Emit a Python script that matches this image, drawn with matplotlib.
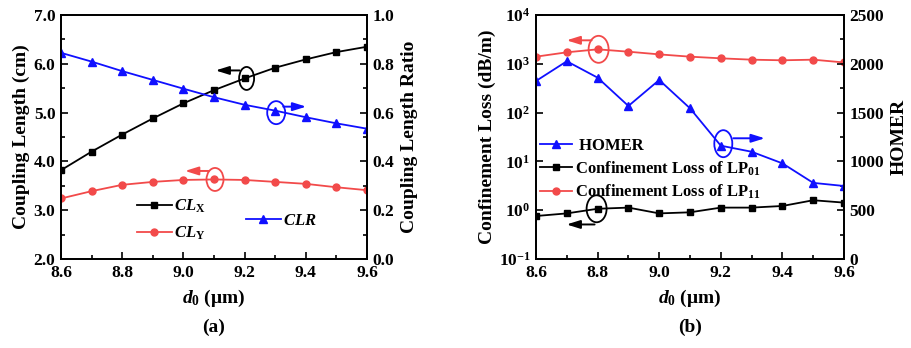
import numpy as np
import matplotlib
matplotlib.use("Agg")
import matplotlib.pyplot as plt
from matplotlib.patches import Ellipse
from matplotlib.transforms import ScaledTranslation
from matplotlib.ticker import MultipleLocator, FixedLocator, NullLocator, FixedFormatter

plt.rcParams['font.family'] = ['Liberation Serif', 'DejaVu Serif']
plt.rcParams['font.weight'] = 'bold'
plt.rcParams['mathtext.fontset'] = 'custom'
plt.rcParams['mathtext.rm'] = 'Liberation Serif:bold'
plt.rcParams['mathtext.bf'] = 'Liberation Serif:bold'
plt.rcParams['mathtext.it'] = 'Liberation Serif:italic:bold'
plt.rcParams['axes.linewidth'] = 1.3

# ---- data ----
d0 = [8.6, 8.7, 8.8, 8.9, 9.0, 9.1, 9.2, 9.3, 9.4, 9.5, 9.6]

# panel (a): coupling lengths (cm) and ratio
cl_x = [3.82, 4.20, 4.55, 4.88, 5.19, 5.46, 5.70, 5.92, 6.09, 6.24, 6.35]
cl_y = [3.24, 3.39, 3.52, 3.58, 3.62, 3.63, 3.62, 3.58, 3.54, 3.47, 3.41]
clr = [0.845, 0.809, 0.770, 0.734, 0.698, 0.663, 0.632, 0.608, 0.581, 0.556, 0.534]

# panel (b): confinement loss (dB/m) and HOMER
loss_lp01 = [0.76, 0.86, 1.07, 1.13, 0.86, 0.905, 1.13, 1.13, 1.22, 1.60, 1.43]
loss_lp11 = [1400, 1720, 1980, 1770, 1560, 1400, 1295, 1215, 1180, 1215, 1065]
homer = [1824, 2026, 1858, 1568, 1834, 1544, 1161, 1099, 980, 780, 748]

xticks = [8.6, 8.8, 9.0, 9.2, 9.4, 9.6]
xticklabels = ['8.6', '8.8', '9.0', '9.2', '9.4', '9.6']

BLACK = '#000000'
RED = '#f24a4a'
BLUE = '#1010ff'

TICK_FS = 12.5
LABEL_FS = 14
LEG_FS = 12

fig = plt.figure(figsize=(9.11, 3.48), dpi=100)
ax_a = fig.add_axes([61 / 911, 89 / 348, 306 / 911, 244 / 348])
ax_b = fig.add_axes([536 / 911, 89 / 348, 308 / 911, 244 / 348])


def style_axis(ax):
    ax.tick_params(which='both', direction='in', labelsize=TICK_FS, width=1.2)
    ax.tick_params(which='major', length=5, pad=4)
    ax.tick_params(which='minor', length=3)
    for lab in ax.get_xticklabels() + ax.get_yticklabels():
        lab.set_fontweight('bold')


def mark(ax, x, y, w, h, color, cx, cy, tail, head, dy):
    """Ellipse around a data point plus a horizontal arrow (offsets in inches)."""
    trans = fig.dpi_scale_trans + ScaledTranslation(x, y, ax.transData)
    ax.add_patch(Ellipse((cx, cy), w, h, transform=trans, fill=False,
                         edgecolor=color, lw=1.3, clip_on=False, zorder=6))
    ax.annotate('', xy=(head, dy), xycoords=trans, xytext=(tail, dy), textcoords=trans,
                arrowprops=dict(arrowstyle='-|>,head_length=0.8,head_width=0.25',
                                color=color, lw=1.4, shrinkA=0, shrinkB=0),
                annotation_clip=False, zorder=6)


# ---------------- panel (a) ----------------
ax_a2 = ax_a.twinx()
l_x, = ax_a.plot(d0, cl_x, color=BLACK, marker='s', ms=4.5, lw=1.3, label=r'$CL_{\mathrm{X}}$')
l_y, = ax_a.plot(d0, cl_y, color=RED, marker='o', ms=5, lw=1.3, label=r'$CL_{\mathrm{Y}}$')
l_r, = ax_a2.plot(d0, clr, color=BLUE, marker='^', ms=5.5, lw=1.3, label=r'$CLR$')

ax_a.set_xlim(8.6, 9.6)
ax_a.set_ylim(2.0, 7.0)
ax_a2.set_ylim(0.0, 1.0)
ax_a.xaxis.set_major_locator(FixedLocator(xticks))
ax_a.xaxis.set_major_formatter(FixedFormatter(xticklabels))
ax_a.xaxis.set_minor_locator(MultipleLocator(0.1))
ax_a.yaxis.set_major_locator(MultipleLocator(1.0))
ax_a.yaxis.set_minor_locator(MultipleLocator(0.5))
ax_a.yaxis.set_major_formatter(matplotlib.ticker.FormatStrFormatter('%.1f'))
ax_a2.yaxis.set_major_locator(MultipleLocator(0.2))
ax_a2.yaxis.set_minor_locator(MultipleLocator(0.1))
ax_a2.yaxis.set_major_formatter(matplotlib.ticker.FormatStrFormatter('%.1f'))
style_axis(ax_a)
style_axis(ax_a2)
ax_a.set_ylabel('Coupling Length (cm)', fontsize=LABEL_FS, fontweight='bold', labelpad=3)
ax_a2.set_ylabel('Coupling Length Ratio', fontsize=LABEL_FS, fontweight='bold', labelpad=5)
ax_a.set_xlabel(r'$d_{\mathrm{0}}$ ($\mathrm{\mu}$m)', fontsize=LABEL_FS, fontweight='bold', labelpad=5)

leg1 = ax_a2.legend(handles=[l_x, l_y], loc='upper left', bbox_to_anchor=(0.21, 0.30),
                    frameon=False, fontsize=LEG_FS, handlelength=2.1, handletextpad=0.15,
                    labelspacing=0.6, borderpad=0.2)
ax_a2.add_artist(leg1)
ax_a2.legend(handles=[l_r], loc='upper left', bbox_to_anchor=(0.565, 0.237),
             frameon=False, fontsize=LEG_FS, handlelength=2.1, handletextpad=0.15, borderpad=0.2)

mark(ax_a, 9.2, cl_x[6], 0.15, 0.23, BLACK, 0.02, 0.0, -0.05, -0.29, 0.08)
mark(ax_a2, 9.3, clr[7], 0.18, 0.23, BLUE, 0.01, -0.02, 0.08, 0.31, 0.04)
mark(ax_a, 9.1, cl_y[5], 0.17, 0.23, RED, 0.01, 0.0, -0.05, -0.29, 0.085)

fig.text(214 / 911, 1 - 327 / 348, '(a)', fontsize=LABEL_FS, fontweight='bold',
         ha='center', va='center')

# ---------------- panel (b) ----------------
ax_b2 = ax_b.twinx()
l01, = ax_b.plot(d0, loss_lp01, color=BLACK, marker='s', ms=4.5, lw=1.3,
                 label=r'Confinement Loss of LP$_{\mathrm{01}}$')
l11, = ax_b.plot(d0, loss_lp11, color=RED, marker='o', ms=5, lw=1.3,
                 label=r'Confinement Loss of LP$_{\mathrm{11}}$')
lh, = ax_b2.plot(d0, homer, color=BLUE, marker='^', ms=5.5, lw=1.3, label=' HOMER')

ax_b.set_yscale('log')
ax_b.set_xlim(8.6, 9.6)
ax_b.set_ylim(1e-1, 1e4)
ax_b2.set_ylim(0, 2500)
ax_b.xaxis.set_major_locator(FixedLocator(xticks))
ax_b.xaxis.set_major_formatter(FixedFormatter(xticklabels))
ax_b.xaxis.set_minor_locator(MultipleLocator(0.1))
decades = [1e-1, 1e0, 1e1, 1e2, 1e3, 1e4]
ax_b.yaxis.set_major_locator(FixedLocator(decades))
ax_b.yaxis.set_major_formatter(FixedFormatter(
    [r'$\mathrm{10^{-1}}$', r'$\mathrm{10^{0}}$', r'$\mathrm{10^{1}}$',
     r'$\mathrm{10^{2}}$', r'$\mathrm{10^{3}}$', r'$\mathrm{10^{4}}$']))
ax_b.yaxis.set_minor_locator(NullLocator())
ax_b2.yaxis.set_major_locator(MultipleLocator(500))
ax_b2.yaxis.set_minor_locator(MultipleLocator(250))
style_axis(ax_b)
style_axis(ax_b2)
ax_b.set_ylabel('Confinement Loss (dB/m)', fontsize=LABEL_FS, fontweight='bold', labelpad=2)
ax_b2.set_ylabel('HOMER', fontsize=LABEL_FS, fontweight='bold', labelpad=5)
ax_b.set_xlabel(r'$d_{\mathrm{0}}$ ($\mathrm{\mu}$m)', fontsize=LABEL_FS, fontweight='bold', labelpad=5)

ax_b2.legend(handles=[lh, l01, l11], loc='upper left', bbox_to_anchor=(-0.025, 0.545),
             frameon=False, fontsize=LEG_FS, handlelength=1.9, handletextpad=0.2,
             labelspacing=0.33, borderpad=0.2)

mark(ax_b, 8.8, loss_lp11[2], 0.20, 0.27, RED, 0.01, 0.0, -0.06, -0.31, 0.09)
mark(ax_b, 8.8, loss_lp01[2], 0.20, 0.27, BLACK, -0.01, 0.0, -0.03, -0.31, -0.157)
mark(ax_b2, 9.2, homer[6], 0.18, 0.27, BLUE, 0.025, 0.02, 0.125, 0.44, 0.074)

fig.text(690 / 911, 1 - 327 / 348, '(b)', fontsize=LABEL_FS, fontweight='bold',
         ha='center', va='center')

fig.savefig('out.png', dpi=100)
